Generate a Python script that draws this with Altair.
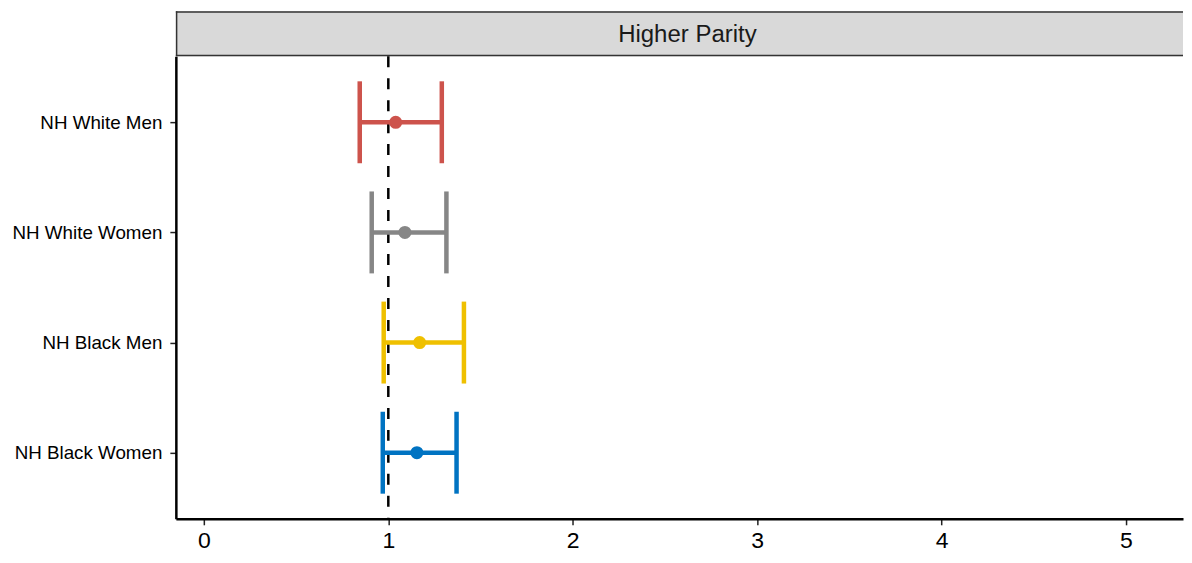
import altair as alt
import pandas as pd

groups = ["NH White Men", "NH White Women", "NH Black Men", "NH Black Women"]
estimates = [1.04, 1.09, 1.17, 1.155]
lower = [0.845, 0.91, 0.975, 0.97]
upper = [1.29, 1.315, 1.41, 1.37]
colors = ["#CD534C", "#868686", "#EFC000", "#0073C2"]
x_ticks = [0, 1, 2, 3, 4, 5]
x_domain = [-0.152, 5.309]
ref_value = [1]
strip_label = ["Higher Parity"]

W = 1008
H = 463
STRIP_H = 45

df = pd.DataFrame({"group": groups, "est": estimates, "lo": lower, "hi": upper})
ref = pd.DataFrame({"ref": ref_value})
strip = pd.DataFrame({"label": strip_label})

xscale = alt.Scale(domain=x_domain, nice=False, zero=False)
yscale = alt.Scale(type="point", domain=groups, padding=0.6)
cscale = alt.Scale(domain=groups, range=colors)

xaxis = alt.Axis(values=x_ticks, format="d", title=None, grid=False, domainColor="black", domainWidth=2.5,
                 tickColor="#222222", tickWidth=1.5, tickSize=6, labelFontSize=23,
                 labelFont="Liberation Sans", labelColor="black", labelPadding=5, labelFlush=False)
yaxis = alt.Axis(title=None, grid=False, domainColor="black", domainWidth=2.5,
                 tickColor="#222222", tickWidth=1.5, tickSize=6, labelFontSize=18.8,
                 labelFont="Liberation Sans", labelColor="black", labelPadding=8,
                 minExtent=168, maxExtent=168)

base = alt.Chart(df)

bars = base.mark_rule(strokeWidth=4.5).encode(
    x=alt.X("lo:Q", scale=xscale, axis=xaxis),
    x2="hi:Q",
    y=alt.Y("group:N", scale=yscale, axis=yaxis, sort=groups),
    color=alt.Color("group:N", scale=cscale, legend=None),
)
cap_lo = base.mark_tick(size=82, thickness=4.5, opacity=1).encode(
    x=alt.X("lo:Q", scale=xscale),
    y=alt.Y("group:N", scale=yscale, sort=groups),
    color=alt.Color("group:N", scale=cscale, legend=None),
)
cap_hi = base.mark_tick(size=82, thickness=4.5, opacity=1).encode(
    x=alt.X("hi:Q", scale=xscale),
    y=alt.Y("group:N", scale=yscale, sort=groups),
    color=alt.Color("group:N", scale=cscale, legend=None),
)
pts = base.mark_circle(size=170, opacity=1).encode(
    x=alt.X("est:Q", scale=xscale),
    y=alt.Y("group:N", scale=yscale, sort=groups),
    color=alt.Color("group:N", scale=cscale, legend=None),
)
refline = alt.Chart(ref).mark_rule(color="black", strokeWidth=2.5, strokeDash=[11, 11]).encode(
    x=alt.X("ref:Q", scale=xscale)
)

main = alt.layer(refline, bars, cap_lo, cap_hi, pts).properties(width=W, height=H)

strip_bg = alt.Chart(strip).mark_rect(fill="#D9D9D9").encode(
    x=alt.value(0), x2=alt.value(W), y=alt.value(0), y2=alt.value(STRIP_H)
)
strip_top = alt.Chart(strip).mark_rule(color="#333333", strokeWidth=1.5).encode(
    x=alt.value(0), x2=alt.value(W), y=alt.value(0.75)
)
strip_bot = alt.Chart(strip).mark_rule(color="#333333", strokeWidth=1.5).encode(
    x=alt.value(0), x2=alt.value(W), y=alt.value(STRIP_H - 0.75)
)
strip_left = alt.Chart(strip).mark_rule(color="#333333", strokeWidth=1.5).encode(
    x=alt.value(0.75), y=alt.value(0), y2=alt.value(STRIP_H)
)
strip_text = alt.Chart(strip).mark_text(fontSize=24, font="Liberation Sans", color="#1A1A1A").encode(
    text="label:N", x=alt.value(W / 2 + 8), y=alt.value(STRIP_H / 2 + 1)
)
strip_chart = alt.layer(strip_bg, strip_top, strip_bot, strip_left, strip_text).properties(
    width=W, height=STRIP_H
)

chart = alt.vconcat(strip_chart, main, spacing=0, bounds="flush").properties(
    padding={"left": 0, "top": 2, "right": 0, "bottom": 5}
).configure_view(stroke=None)

chart.save("out.html", embed_options={"renderer": "svg", "actions": False})
